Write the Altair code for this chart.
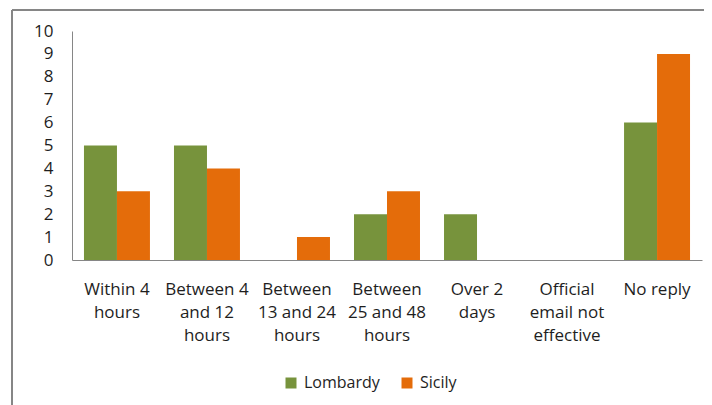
import altair as alt
import pandas as pd

categories = ["Within 4|hours", "Between 4|and 12|hours", "Between|13 and 24|hours",
              "Between|25 and 48|hours", "Over 2|days", "Official|email not|effective", "No reply"]
lombardy = [5, 5, 0, 2, 2, 0, 6]
sicily = [3, 4, 1, 3, 0, 0, 9]
series = ["Lombardy", "Sicily"]
colors = ["#77933C", "#E46C0A"]

rows = []
for c, l, s in zip(categories, lombardy, sicily):
    rows.append({"cat": c, "series": "Lombardy", "value": l})
    rows.append({"cat": c, "series": "Sicily", "value": s})
df = pd.DataFrame(rows)

FONT = "Open Sans"
TXT = "#1e1e1e"

bars = alt.Chart(df).mark_bar().encode(
    x=alt.X("cat:N", sort=categories, title=None,
            scale=alt.Scale(paddingInner=0.267, paddingOuter=0.133),
            axis=alt.Axis(labelExpr="split(datum.label, '|')", labelAngle=0,
                          labelFont=FONT, labelFontSize=17, labelColor=TXT,
                          labelLineHeight=23, labelPadding=21, ticks=False,
                          domainColor="#868686", labelBaseline="top")),
    xOffset=alt.XOffset("series:N", sort=series),
    y=alt.Y("value:Q", title=None,
            scale=alt.Scale(domain=[0, 10], nice=False),
            axis=alt.Axis(values=list(range(11)), grid=False, ticks=False,
                          labelFont=FONT, labelFontSize=17, labelColor=TXT,
                          labelPadding=19, domainColor="#868686")),
    color=alt.Color("series:N", sort=series,
                    scale=alt.Scale(domain=series, range=colors),
                    legend=alt.Legend(title=None, orient="none", direction="horizontal",
                                      legendX=211, legendY=344, symbolType="square",
                                      symbolSize=121, symbolStrokeWidth=0,
                                      labelFont=FONT, labelFontSize=16, labelColor=TXT,
                                      labelOffset=5, columnPadding=19, symbolOpacity=1)),
)

border_left = alt.Chart(df).mark_rule(color="#868686", strokeWidth=2).encode(
    x=alt.value(-60), y=alt.value(-21), y2=alt.value(420))
border_top = alt.Chart(df).mark_rule(color="#868686", strokeWidth=2).encode(
    x=alt.value(-60), x2=alt.value(700), y=alt.value(-21))

chart = alt.layer(bars, border_left, border_top).properties(
    width=630, height=229,
    autosize=alt.AutoSizeParams(type="none"),
    padding={"left": 64, "top": 23, "right": 2, "bottom": 145},
).configure_view(stroke=None)

chart.save("out.html", embed_options={"renderer": "svg", "actions": False})
